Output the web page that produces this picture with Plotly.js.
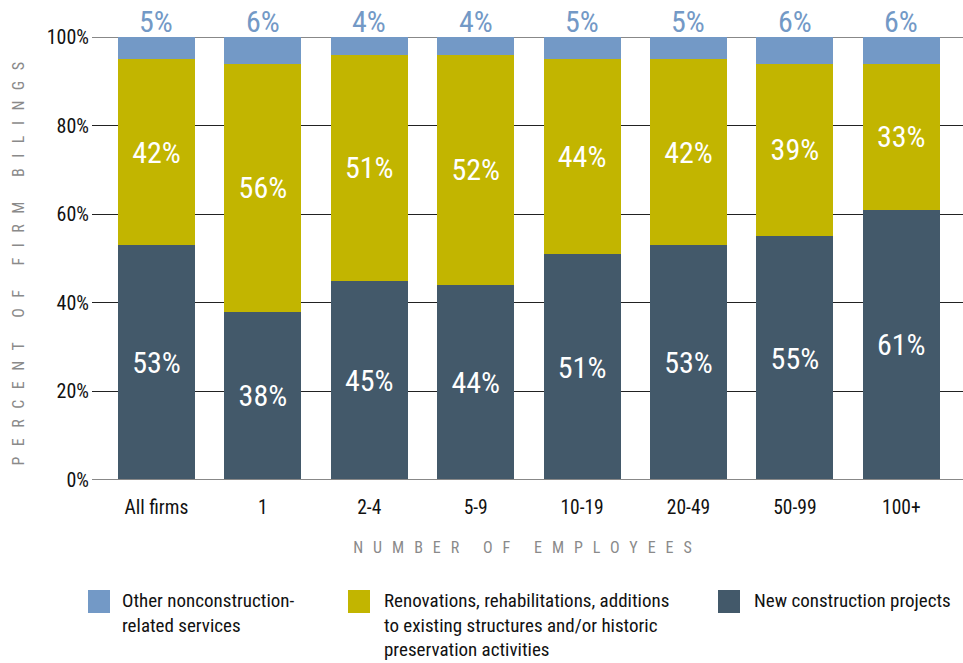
<!DOCTYPE html>
<html>
<head>
<meta charset="utf-8">
<script src="https://cdn.plot.ly/plotly-3.0.1.min.js"></script>
<style>
html,body{margin:0;padding:0;background:#fff;}
#chart{width:963px;height:663px;}
.ytitle{letter-spacing:10.5px !important;}
.xtitle{letter-spacing:10px !important;}
</style>
</head>
<body>
<div id="chart"></div>
<script>
const categories = ["All firms","1","2-4","5-9","10-19","20-49","50-99","100+"];
const newConstruction = [53,38,45,44,51,53,55,61];
const renovations = [42,56,51,52,44,42,39,33];
const otherServices = [5,6,4,4,5,5,6,6];
const seriesNames = ["Other nonconstruction-<br>related services",
  "Renovations, rehabilitations, additions<br>to existing structures and/or historic<br>preservation activities",
  "New construction projects"];
const yTicks = [0,20,40,60,80,100];

const cBlue = "#7399C6", cYellow = "#C2B500", cDark = "#43596A";
const FONT = "'Liberation Sans Narrow','Roboto Condensed','Arial Narrow',Roboto,sans-serif";

const L = 92, R = 963, T = 37, B = 480, W = 963, H = 663;
const px = x => (x - L) / (R - L);
const py = y => (B - y) / (B - T);

const common = {type:'bar', x:categories, width:0.724, textposition:'inside',
  insidetextanchor:'middle', constraintext:'none', cliponaxis:false,
  textfont:{color:'#ffffff', size:30, family:FONT}, hoverinfo:'skip', showlegend:false};

const traces = [
  Object.assign({}, common, {y:newConstruction, name:'New construction projects', marker:{color:cDark},
    texttemplate:'%{y}%'}),
  Object.assign({}, common, {y:renovations, name:'Renovations', marker:{color:cYellow},
    texttemplate:'%{y}%'}),
  Object.assign({}, common, {y:otherServices, name:'Other', marker:{color:cBlue},
    texttemplate:'', text:''})
];

const annotations = categories.map((c,i)=>({x:c, y:100, xref:'x', yref:'y', text:otherServices[i]+'%',
  showarrow:false, yanchor:'bottom', yshift:-4, font:{color:cBlue, size:30, family:FONT}}));

const legendItems = [
  {color:cBlue, x:88, tx:120, text:seriesNames[0]},
  {color:cYellow, x:348, tx:382, text:seriesNames[1]},
  {color:cDark, x:718, tx:752, text:seriesNames[2]}
];
const shapes = [
  {type:'line', xref:'paper', yref:'y', x0:0, x1:1, y0:0, y1:0, line:{color:'#888', width:2}},
  {type:'line', xref:'paper', yref:'y', x0:0, x1:1, y0:100, y1:100, line:{color:'#888', width:2}, layer:'below'}
];
legendItems.forEach(it=>{
  shapes.push({type:'rect', xref:'paper', yref:'paper', x0:px(it.x), x1:px(it.x+22),
    y0:py(590), y1:py(613), fillcolor:it.color, line:{width:0}});
  annotations.push({xref:'paper', yref:'paper', x:px(it.tx), y:py(587), xanchor:'left', yanchor:'top',
    align:'left', showarrow:false, text:it.text, font:{size:19, color:'#111', family:FONT}});
});

const layout = {
  width:W, height:H, margin:{l:L, r:W-R, t:T, b:H-B},
  barmode:'stack', bargap:0.28, paper_bgcolor:'#fff', plot_bgcolor:'#fff',
  font:{family:FONT, color:'#111'},
  xaxis:{range:[-0.606,7.58], showgrid:false, zeroline:false, showline:false, ticks:'',
    tickfont:{size:19.5, color:'#111'}, ticklabelstandoff:13,
    title:{text:'NUMBER OF EMPLOYEES', font:{size:16, color:'#8a8a8a'}, standoff:24}},
  yaxis:{range:[0,100], tickvals:yTicks, ticktext:yTicks.map(v=>v+'%'), showgrid:true,
    gridcolor:'#222', gridwidth:1, zeroline:false, showline:false, ticks:'',
    tickfont:{size:20, color:'#111'}, ticklabelstandoff:2,
    title:{text:'PERCENT OF FIRM BILINGS', font:{size:16, color:'#8a8a8a'}, standoff:18}},
  shapes:shapes, annotations:annotations
};

Plotly.newPlot('chart', traces, layout, {displayModeBar:false, staticPlot:true});
</script>
</body>
</html>
